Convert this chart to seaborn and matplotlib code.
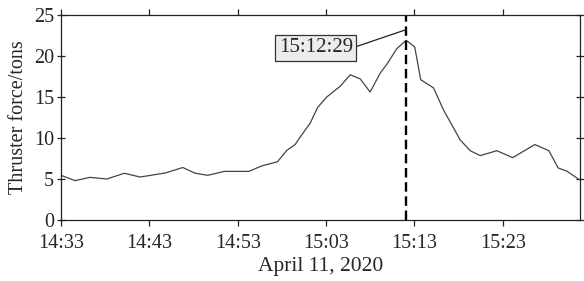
import pandas as pd
import matplotlib
matplotlib.use("Agg")
import matplotlib.pyplot as plt
import matplotlib.dates as mdates
import seaborn as sns

# --- data ---
times = ["14:33:00", "14:34:35", "14:36:17", "14:38:11", "14:40:10", "14:41:57",
         "14:44:47", "14:46:47", "14:48:11", "14:49:37", "14:51:29", "14:54:16",
         "14:55:44", "14:57:30", "14:58:34", "14:59:30", "15:00:04", "15:01:12",
         "15:02:02", "15:03:05", "15:04:36", "15:05:44", "15:06:52", "15:07:59",
         "15:09:08", "15:09:57", "15:11:01", "15:12:04", "15:13:02", "15:13:43",
         "15:15:10", "15:16:18", "15:18:11", "15:19:19", "15:20:27", "15:22:20",
         "15:24:07", "15:26:38", "15:28:13", "15:29:16", "15:30:16", "15:31:42"]
force = [5.45, 4.8, 5.2, 5.0, 5.7, 5.24,
         5.73, 6.4, 5.7, 5.45, 5.93, 5.93,
         6.6, 7.1, 8.5, 9.2, 10.1, 11.8,
         13.7, 15.0, 16.3, 17.7, 17.2, 15.6,
         17.9, 19.1, 20.9, 21.9, 21.1, 17.1,
         16.1, 13.4, 9.76, 8.45, 7.85, 8.45,
         7.6, 9.2, 8.45, 6.35, 5.95, 4.9]
peak_label = "15:12:29"
tip_y = 23.2
date_str = "2020-04-11"

df = pd.DataFrame({"time": pd.to_datetime([f"{date_str} {t}" for t in times]),
                   "force": force})
peak_time = df.loc[df["force"].idxmax(), "time"]

sns.set_style("ticks")
plt.rcParams["font.family"] = ["Liberation Serif", "DejaVu Serif"]

fig = plt.figure(figsize=(5.84, 2.81), dpi=100)
ax = fig.add_axes([0.1045, 0.217, 0.888, 0.730])

sns.lineplot(data=df, x="time", y="force", ax=ax, color="#444444", linewidth=0.9)
ax.axvline(peak_time, color="black", linewidth=1.7, linestyle=(0, (4, 2)))

# data tip box
ax.annotate(peak_label, xy=(peak_time, tip_y), xytext=(-65, -13),
            textcoords="offset points", ha="center", va="center", fontsize=15,
            bbox=dict(boxstyle="square,pad=0.16", fc="#ededed", ec="#333333", lw=0.9),
            arrowprops=dict(arrowstyle="-", color="#222222", lw=0.9,
                            relpos=(1.0, 0.5), shrinkA=0, shrinkB=0))

ax.set_xlim(df["time"].iloc[0], df["time"].iloc[-1])
ax.set_ylim(0, 25)
ax.set_yticks([0, 5, 10, 15, 20, 25])
ax.xaxis.set_major_locator(mdates.MinuteLocator(byminute=[3, 13, 23, 33, 43, 53]))
ax.xaxis.set_major_formatter(mdates.DateFormatter("%H:%M"))

ax.set_xlabel("April 11, 2020", fontsize=15.5, labelpad=3)
ax.set_ylabel("Thruster force/tons", fontsize=14.5, labelpad=4)

for s in ax.spines.values():
    s.set_visible(True)
    s.set_color("#222222")
    s.set_linewidth(0.9)
ax.tick_params(axis="both", labelsize=14.5, color="#222222", width=0.9)
ax.tick_params(axis="y", direction="inout", length=6, right=True, pad=2)
ax.tick_params(axis="x", direction="out", length=4, top=True, pad=6)

fig.savefig("out.png", dpi=100)
